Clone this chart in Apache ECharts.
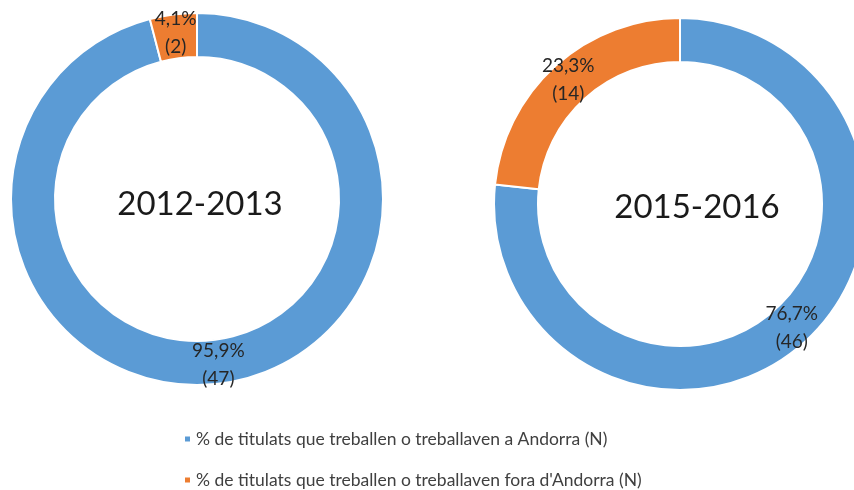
<!DOCTYPE html>
<html>
<head>
<meta charset="utf-8">
<script src="https://cdn.jsdelivr.net/npm/echarts@6/dist/echarts.min.js"></script>
<style>
  html, body { margin: 0; padding: 0; background: #fff; }
  #chart { width: 854px; height: 490px; }
</style>
</head>
<body>
<div id="chart"></div>
<script>
var categories = [
    "% de titulats que treballen o treballaven a Andorra (N)",
    "% de titulats que treballen o treballaven fora d'Andorra (N)"
];
var periods = ['2012-2013', '2015-2016'];
var counts2012 = [47, 2];
var counts2015 = [46, 14];

var textColor = '#262626';

function toData(values) {
    return values.map(function(v, i) {
        return { name: categories[i], value: v };
    });
}

function sliceLabel(p) {
    return p.percent.toFixed(1).replace('.', ',') + '%\n(' + p.value + ')';
}

function donut(center, values) {
    return {
        type: 'pie',
        center: center,
        radius: [142, 186],
        startAngle: 90,
        clockwise: true,
        silent: true,
        itemStyle: {
            borderColor: '#ffffff',
            borderWidth: 2
        },
        label: {
            show: true,
            position: 'inside',
            formatter: sliceLabel,
            color: textColor,
            fontFamily: 'Lato',
            fontSize: 19,
            lineHeight: 28
        },
        labelLine: { show: false },
        data: toData(values)
    };
}

var chart = echarts.init(document.getElementById('chart'));
var option = {
    animation: false,
    color: ['#5B9BD5', '#ED7D31'],
    title: [
        {
            text: periods[0],
            left: 195, top: 199,
            textAlign: 'center', textVerticalAlign: 'middle',
            textStyle: { fontFamily: 'Lato', fontSize: 33, fontWeight: 'normal', color: '#1a1a1a' }
        },
        {
            text: periods[1],
            left: 692, top: 202,
            textAlign: 'center', textVerticalAlign: 'middle',
            textStyle: { fontFamily: 'Lato', fontSize: 33, fontWeight: 'normal', color: '#1a1a1a' }
        }
    ],
    legend: {
        orient: 'vertical',
        left: 183,
        top: 430,
        height: 60,
        padding: 0,
        icon: 'rect',
        itemWidth: 7,
        itemHeight: 7,
        itemGap: 23,
        data: categories,
        textStyle: {
            fontFamily: 'Lato',
            fontSize: 17.5,
            lineHeight: 17,
            color: '#404040'
        }
    },
    series: [
        donut([197, 199], counts2012),
        donut([680, 204], counts2015)
    ]
};
chart.setOption(option);
</script>
</body>
</html>
